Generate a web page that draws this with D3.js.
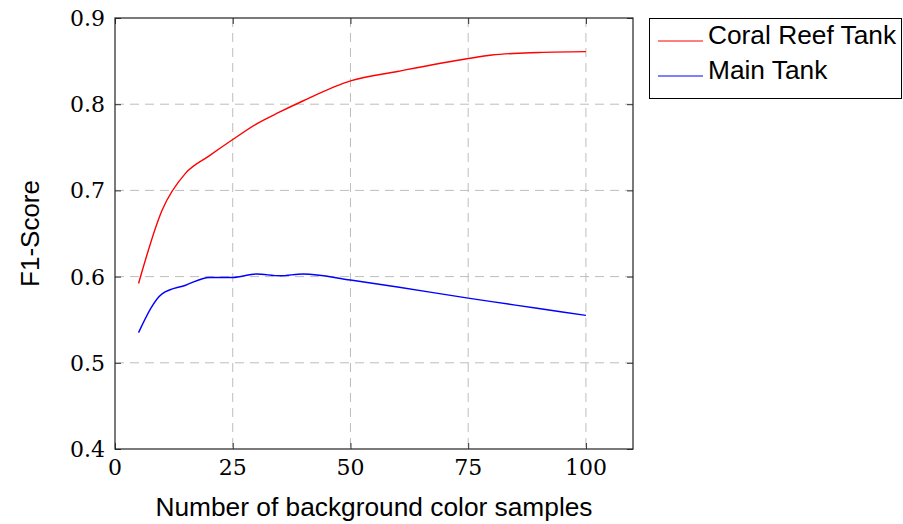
<!DOCTYPE html>
<html>
<head>
<meta charset="utf-8">
<script src="https://cdn.jsdelivr.net/npm/d3@7"></script>
<style>
  body { margin: 0; background: #fff; }
  text.tk { font-family: "DejaVu Serif", "Liberation Serif", serif; }
</style>
</head>
<body>
<svg id="chart" width="903" height="524"></svg>
<script>
// Values
const samples = [5, 10, 15, 20, 25, 30, 35, 40, 50, 60, 75, 80, 90, 100];
const coralReef = [0.592, 0.677, 0.720, 0.740, 0.759, 0.777, 0.791, 0.804, 0.827, 0.838, 0.853, 0.857, 0.860, 0.861];
const mainTank = [0.535, 0.580, 0.590, 0.599, 0.599, 0.603, 0.601, 0.603, 0.596, 0.588, 0.575, 0.571, 0.563, 0.555];
const xTicks = [0, 25, 50, 75, 100];
const yTicks = [0.4, 0.5, 0.6, 0.7, 0.8, 0.9];
const seriesNames = ["Coral Reef Tank", "Main Tank"];
const seriesColors = ["#ff0000", "#0000ff"];

const SANS = "'Liberation Sans', Arial, Helvetica, sans-serif";

// Plot area in pixels
const LEFT = 115, RIGHT = 633, TOP = 18, BOTTOM = 449;

const svg = d3.select("#chart");

const x = d3.scaleLinear().domain([0, 110]).range([LEFT, RIGHT]);
const y = d3.scaleLinear().domain([0.4, 0.9]).range([BOTTOM, TOP]);

// dashed grid
const grid = svg.append("g")
  .attr("stroke", "#bdbdbd")
  .attr("stroke-width", 1)
  .attr("stroke-dasharray", "9,6");

grid.selectAll(".gx")
  .data(xTicks.filter((d) => d > 0))
  .enter()
  .append("line")
  .attr("x1", (d) => x(d)).attr("x2", (d) => x(d))
  .attr("y1", TOP).attr("y2", BOTTOM);

grid.selectAll(".gy")
  .data(yTicks.filter((d) => d > 0.4 && d < 0.9))
  .enter()
  .append("line")
  .attr("x1", LEFT).attr("x2", RIGHT)
  .attr("y1", (d) => y(d)).attr("y2", (d) => y(d));

// the two curves
const rows = samples.map((s, i) => ({ s, a: coralReef[i], b: mainTank[i] }));
const keys = ["a", "b"];

keys.forEach((k, i) => {
  const line = d3.line()
    .x((d) => x(d.s))
    .y((d) => y(d[k]))
    .curve(d3.curveMonotoneX);
  svg.append("path")
    .datum(rows)
    .attr("fill", "none")
    .attr("stroke", seriesColors[i])
    .attr("stroke-width", 1.4)
    .attr("d", line);
});

// axes: ticks pointing inward on all four sides
const xAxis = d3.axisBottom(x).tickValues(xTicks).tickSize(-6).tickFormat("");
const yAxis = d3.axisLeft(y).tickValues(yTicks).tickSize(-6).tickFormat("");
const xAxisTop = d3.axisTop(x).tickValues(xTicks).tickSize(-6).tickFormat("");
const yAxisRight = d3.axisRight(y).tickValues(yTicks).tickSize(-6).tickFormat("");

[
  [xAxis, `translate(0,${BOTTOM})`],
  [yAxis, `translate(${LEFT},0)`],
  [xAxisTop, `translate(0,${TOP})`],
  [yAxisRight, `translate(${RIGHT},0)`],
].forEach(([ax, tr]) => {
  const g = svg.append("g").attr("transform", tr).call(ax);
  g.select(".domain").remove();
  g.selectAll("line").attr("stroke", "#333").attr("stroke-width", 1);
});

// frame
svg.append("rect")
  .attr("x", LEFT).attr("y", TOP)
  .attr("width", RIGHT - LEFT).attr("height", BOTTOM - TOP)
  .attr("fill", "none")
  .attr("stroke", "#222")
  .attr("stroke-width", 1.2);

// tick labels (serif, like the LaTeX original)
svg.selectAll(".xl")
  .data(xTicks)
  .enter()
  .append("text")
  .attr("class", "tk")
  .style("font-size", "22px")
  .attr("x", (d) => x(d))
  .attr("y", 475)
  .attr("text-anchor", "middle")
  .text((d) => d);

svg.selectAll(".yl")
  .data(yTicks)
  .enter()
  .append("text")
  .attr("class", "tk")
  .style("font-size", "22px")
  .attr("x", LEFT - 10)
  .attr("y", (d) => y(d) + 8)
  .attr("text-anchor", "end")
  .text((d) => d.toFixed(1));

// axis titles
svg.append("text")
  .attr("font-family", SANS)
  .attr("font-size", 26.3)
  .attr("x", (LEFT + RIGHT) / 2)
  .attr("y", 516)
  .attr("text-anchor", "middle")
  .text("Number of background color samples");

svg.append("text")
  .attr("font-family", SANS)
  .attr("font-size", 26)
  .attr("transform", `translate(39,${(TOP + BOTTOM) / 2}) rotate(-90)`)
  .attr("text-anchor", "middle")
  .text("F1-Score");

// legend
const legend = svg.append("g");
legend.append("rect")
  .attr("x", 649.5).attr("y", 18.5)
  .attr("width", 252).attr("height", 80)
  .attr("fill", "#fff")
  .attr("stroke", "#000")
  .attr("stroke-width", 1);

seriesNames.forEach((name, i) => {
  const base = 43.5 + i * 35;
  legend.append("line")
    .attr("x1", 658).attr("x2", 703)
    .attr("y1", base - 2.5).attr("y2", base - 2.5)
    .attr("stroke", seriesColors[i])
    .attr("stroke-width", 1.2);
  legend.append("text")
    .attr("font-family", SANS)
    .attr("font-size", 26.3)
    .attr("x", 708)
    .attr("y", base)
    .text(name);
});
</script>
</body>
</html>
